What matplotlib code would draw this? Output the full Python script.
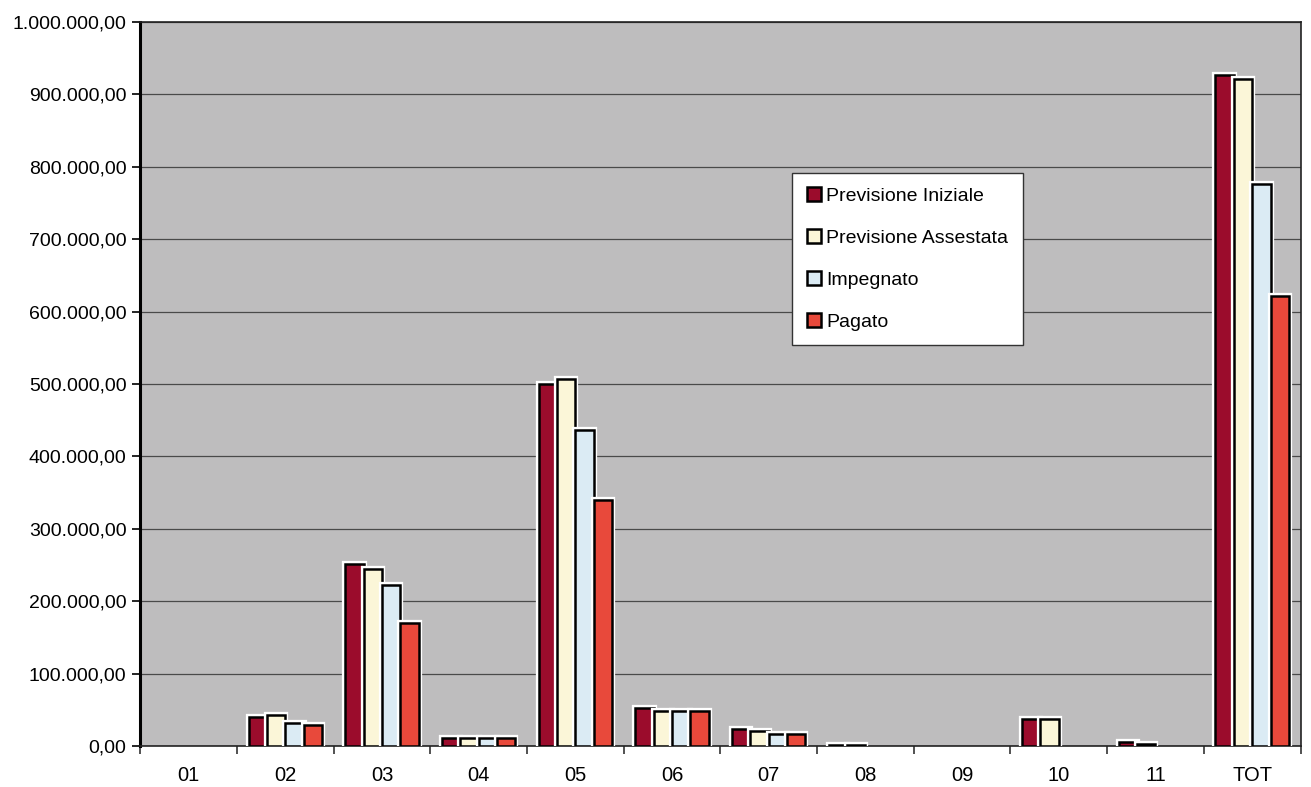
import matplotlib.pyplot as plt
import matplotlib.patheffects as pe
import numpy as np
from matplotlib.ticker import FuncFormatter

plt.rcParams['font.family'] = ['Liberation Sans', 'DejaVu Sans']

# categorie (missioni) e valori per serie
categorie = ['01', '02', '03', '04', '05', '06', '07', '08', '09', '10', '11', 'TOT']
prev_iniziale = [0, 40000, 252000, 11000, 500000, 52000, 24000, 1500, 0, 38000, 6000, 927000]
prev_assestata = [0, 43000, 245000, 11000, 507000, 49000, 21000, 1000, 0, 38000, 3500, 921000]
impegnato = [0, 32000, 223000, 11000, 437000, 48000, 17000, 0, 0, 0, 0, 776000]
pagato = [0, 29000, 170000, 11000, 340000, 48000, 16000, 0, 0, 0, 0, 622000]

serie = [
    ('Previsione Iniziale', prev_iniziale, '#9b0c2c'),
    ('Previsione Assestata', prev_assestata, '#fbf6d8'),
    ('Impegnato', impegnato, '#dbebf4'),
    ('Pagato', pagato, '#e8493b'),
]

fig = plt.figure(figsize=(13.11, 7.87), dpi=100)
ax = fig.add_axes([0.107, 0.052, 0.885, 0.92])
ax.set_facecolor('#bebdbe')

x = np.arange(len(categorie))
w = 0.19
for i, (nome, valori, colore) in enumerate(serie):
    bars = ax.bar(x + (i - 1.5) * w, valori, width=w, color=colore,
                  edgecolor='black', linewidth=1.8, label=nome, zorder=3)
    for b, v in zip(bars, valori):
        b.set_path_effects([pe.Stroke(linewidth=4.5, foreground='white'), pe.Normal()])
        if v == 0:
            b.set_visible(False)

ax.set_xlim(-0.5, len(categorie) - 0.5)
ax.set_ylim(0, 1000000)
ax.set_yticks(np.arange(0, 1000001, 100000))
ax.yaxis.set_major_formatter(FuncFormatter(
    lambda v, p: f"{v:,.2f}".replace(',', 'X').replace('.', ',').replace('X', '.')))
ax.grid(axis='y', color='#4a4a4a', linewidth=0.9, zorder=1)

ax.set_xticks(x)
ax.set_xticklabels(categorie)
ax.set_xticks(np.arange(-0.5, len(categorie)), minor=True)
ax.tick_params(axis='x', which='major', length=0, pad=14, labelsize=14.5)
ax.tick_params(axis='x', which='minor', length=6, width=1.2, color='#333333')
ax.tick_params(axis='y', length=6, width=1.2, labelsize=14, pad=4)

for lato in ['top', 'right', 'bottom']:
    ax.spines[lato].set_color('#222222')
    ax.spines[lato].set_linewidth(1.2)
ax.spines['left'].set_linewidth(2.2)
ax.spines['left'].set_color('black')

leg = ax.legend(loc='upper left', bbox_to_anchor=(0.562, 0.792), fontsize=14,
                frameon=True, fancybox=False, edgecolor='#333333', framealpha=1,
                handlelength=0.7, handleheight=0.7, handletextpad=0.3,
                labelspacing=1.25, borderpad=0.75, borderaxespad=0)
leg.get_frame().set_linewidth(1.0)
for h in leg.legend_handles:
    h.set_visible(True)
    h.set_path_effects([])
    h.set_linewidth(1.8)

fig.savefig('out.png', dpi=100)
